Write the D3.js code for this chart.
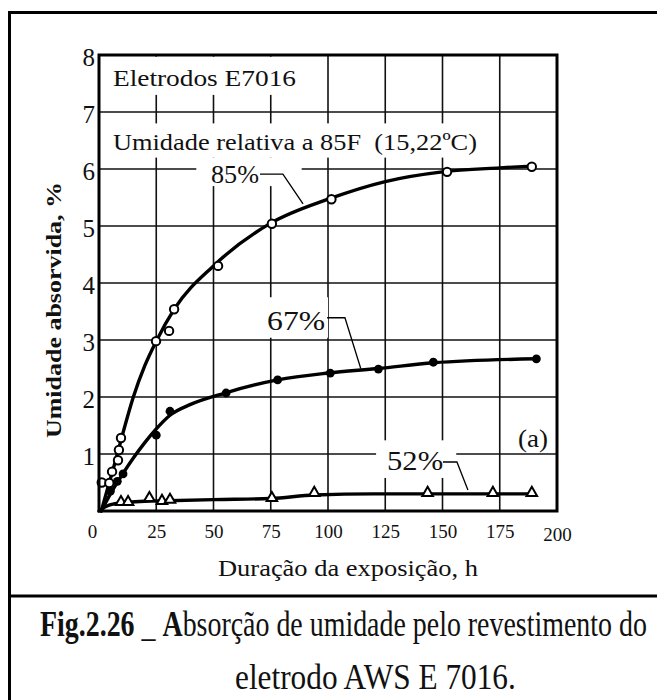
<!DOCTYPE html>
<html>
<head>
<meta charset="utf-8">
<script src="https://cdn.jsdelivr.net/npm/d3@7"></script>
<style>
  html, body { margin: 0; padding: 0; background: #fff; overflow: hidden; }
  svg { display: block; }
  text { fill: #111; }
</style>
</head>
<body>
<div id="chart"></div>
<script>
// tick labels
const xTicks = [0, 25, 50, 75, 100, 125, 150, 175, 200];
const yTicks = [1, 2, 3, 4, 5, 6, 7, 8];

// 85% - open circles
const m85Hours = [1.2, 4.5, 5.7, 8.3, 8.7, 9.6, 24.9, 30.6, 32.8, 52, 75.5, 101.5, 152, 189];
const m85Values = [0.5, 0.49, 0.69, 0.89, 1.07, 1.28, 2.98, 3.16, 3.54, 4.3, 5.04, 5.47, 5.95, 6.04];
const c85Hours = [1, 4.5, 7, 10, 15, 20, 25, 33, 50, 75, 100, 125, 150, 175, 189];
const c85Values = [0, 0.5, 0.85, 1.3, 2.0, 2.55, 2.98, 3.55, 4.3, 5.05, 5.47, 5.78, 5.95, 6.02, 6.05];

// 67% - filled circles
const m67Hours = [5, 8, 10.5, 25, 31, 55.5, 78, 101, 122, 146, 191];
const m67Values = [0.35, 0.52, 0.65, 1.33, 1.75, 2.07, 2.3, 2.42, 2.49, 2.61, 2.67];
const c67Hours = [1, 5, 10.5, 15, 20, 25, 31, 40, 55, 78, 100, 122, 146, 191];
const c67Values = [0, 0.3, 0.66, 0.93, 1.2, 1.44, 1.68, 1.87, 2.07, 2.3, 2.42, 2.5, 2.6, 2.67];

// 52% - open triangles
const m52Hours = [9.6, 12.7, 22, 27.5, 31, 75.5, 94, 143.5, 172, 189];
const m52Values = [0.14, 0.14, 0.21, 0.16, 0.18, 0.21, 0.3, 0.3, 0.3, 0.3];
const c52Hours = [0, 3, 7, 12, 20, 30, 50, 75, 94, 120, 143, 172, 189];
const c52Values = [0, 0.08, 0.13, 0.15, 0.17, 0.18, 0.2, 0.22, 0.28, 0.3, 0.3, 0.3, 0.3];

const FONT = '"Liberation Serif", "Times New Roman", Tinos, "Nimbus Roman", FreeSerif, "DejaVu Serif", serif';
const W = 657, H = 700;
const svg = d3.select('#chart').append('svg')
  .attr('width', W)
  .attr('height', H)
  .style('font-family', FONT);

// scales
const x = d3.scaleLinear().domain([0, 200]).range([99, 557]);
const y = d3.scaleLinear().domain([0, 8]).range([511, 55]);

const zip = (hs, vs) => hs.map((h, i) => [h, vs[i]]);

// outer frame + caption separator
svg.append('rect')
  .attr('x', 9.5).attr('y', 12.5)
  .attr('width', 700).attr('height', 760)
  .attr('fill', 'none').attr('stroke', '#000').attr('stroke-width', 3);
svg.append('line')
  .attr('x1', 9).attr('x2', W + 5)
  .attr('y1', 596).attr('y2', 596)
  .attr('stroke', '#000').attr('stroke-width', 3);

// grid
const grid = svg.append('g').attr('stroke', '#111').attr('stroke-width', 1.6);
grid.selectAll('.vg')
  .data(xTicks.slice(1, -1))
  .enter().append('line')
  .attr('x1', d => x(d)).attr('x2', d => x(d))
  .attr('y1', y(8)).attr('y2', y(0));
grid.selectAll('.hg')
  .data(yTicks.slice(0, -1))
  .enter().append('line')
  .attr('x1', x(0)).attr('x2', x(200))
  .attr('y1', d => y(d)).attr('y2', d => y(d));

// white boxes behind the labels (in data units: h0, h1, v0, v1)
const boxes = [
  [0.4, 90, 7.3, 7.97],
  [0.4, 168, 6.2, 6.8],
  [42.5, 88.5, 5.7, 6.2],
  [71, 100, 3.04, 3.75],
  [121, 156, 0.58, 1.24],
];
svg.append('g').selectAll('rect')
  .data(boxes)
  .enter().append('rect')
  .attr('x', d => x(d[0]))
  .attr('width', d => x(d[1]) - x(d[0]))
  .attr('y', d => y(d[3]))
  .attr('height', d => y(d[2]) - y(d[3]))
  .attr('fill', '#fff');

// curves
const line = d3.line()
  .x(d => x(d[0]))
  .y(d => y(d[1]))
  .curve(d3.curveMonotoneX);

[zip(c85Hours, c85Values), zip(c67Hours, c67Values), zip(c52Hours, c52Values)].forEach((pts) => {
  svg.append('path')
    .attr('d', line(pts))
    .attr('fill', 'none')
    .attr('stroke', '#000')
    .attr('stroke-width', 3.4)
    .attr('stroke-linejoin', 'round')
    .attr('stroke-linecap', 'round');
});

// markers
svg.append('g').selectAll('circle')
  .data(zip(m85Hours, m85Values))
  .enter().append('circle')
  .attr('cx', d => x(d[0])).attr('cy', d => y(d[1]))
  .attr('r', 4.2)
  .attr('fill', '#fff').attr('stroke', '#000').attr('stroke-width', 2);

svg.append('g').selectAll('circle')
  .data(zip(m67Hours, m67Values))
  .enter().append('circle')
  .attr('cx', d => x(d[0])).attr('cy', d => y(d[1]))
  .attr('r', 4.4)
  .attr('fill', '#000');

const tri = d3.symbol().type(d3.symbolTriangle).size(48);
svg.append('g').selectAll('path')
  .data(zip(m52Hours, m52Values))
  .enter().append('path')
  .attr('d', tri)
  .attr('transform', d => `translate(${x(d[0])},${y(d[1]) - 1})`)
  .attr('fill', '#fff').attr('stroke', '#000').attr('stroke-width', 2);

// leader lines for the series labels
const leaders = [
  [[70.3, 5.91], [80.3, 5.91], [89.1, 5.39]],
  [[99.6, 3.39], [107.4, 3.39], [114.3, 2.5]],
  [[150.2, 0.86], [156.3, 0.86], [161.1, 0.37]],
];
leaders.forEach((pts) => {
  svg.append('path')
    .attr('d', d3.line().x(d => x(d[0])).y(d => y(d[1]))(pts))
    .attr('fill', 'none')
    .attr('stroke', '#000')
    .attr('stroke-width', 1.3);
});

// labels inside the plot
const labels = [
  { t: 'Eletrodos E7016', h: 6.1, v: 7.46, size: 24, w: 183 },
  { t: 'Umidade relativa a 85F\u00a0\u00a0(15,22ºC)', h: 6.1, v: 6.33, size: 24, w: 364 },
  { t: '85%', h: 48.9, v: 5.75, size: 26, w: 48 },
  { t: '67%', h: 73.4, v: 3.18, size: 28, w: 58 },
  { t: '52%', h: 125.8, v: 0.72, size: 28, w: 56 },
  { t: '(a)', h: 183, v: 1.12, size: 26, w: 30 },
];
labels.forEach((l) => {
  svg.append('text')
    .attr('x', x(l.h))
    .attr('y', y(l.v))
    .attr('font-size', l.size)
    .attr('textLength', l.w)
    .attr('lengthAdjust', 'spacingAndGlyphs')
    .text(l.t);
});

// axes
const xAxis = svg.append('g')
  .attr('transform', `translate(0,${y(0)})`)
  .call(d3.axisBottom(x).tickValues(xTicks).tickSize(0).tickFormat(d3.format('d')));
xAxis.select('.domain').remove();
xAxis.attr('font-family', FONT);
xAxis.selectAll('text')
  .attr('font-size', 19)
  .attr('fill', '#111')
  .attr('dy', null)
  .attr('y', d => d === 200 ? 30 : 27)
  .attr('dx', d => d === 0 ? -7 : 0);

const yAxis = svg.append('g')
  .attr('transform', `translate(${x(0)},0)`)
  .call(d3.axisLeft(y).tickValues(yTicks).tickSize(0).tickFormat(d3.format('d')));
yAxis.select('.domain').remove();
yAxis.attr('font-family', FONT);
yAxis.selectAll('text')
  .attr('font-size', 25)
  .attr('fill', '#111')
  .attr('x', -4)
  .attr('dy', null)
  .attr('y', 10);

// plot frame
svg.append('rect')
  .attr('x', x(0)).attr('y', y(8))
  .attr('width', x(200) - x(0)).attr('height', y(0) - y(8))
  .attr('fill', 'none').attr('stroke', '#000').attr('stroke-width', 3);

// axis titles
svg.append('text')
  .attr('x', 348).attr('y', 576)
  .attr('text-anchor', 'middle')
  .attr('font-size', 23)
  .attr('textLength', 260)
  .attr('lengthAdjust', 'spacingAndGlyphs')
  .text('Duração da exposição, h');

svg.append('text')
  .attr('transform', 'translate(61,310) rotate(-90)')
  .attr('text-anchor', 'middle')
  .attr('font-size', 22)
  .attr('font-weight', 'bold')
  .attr('textLength', 256)
  .attr('lengthAdjust', 'spacingAndGlyphs')
  .text('Umidade absorvida, %');

// caption, squeezed to the width of the original
const fitText = (sel, left, width) => {
  const bb = sel.node().getBBox();
  const k = width / bb.width;
  sel.attr('transform', `translate(${left - bb.x * k},0) scale(${k},1)`);
};

const cap1 = svg.append('text')
  .attr('x', 0).attr('y', 636)
  .attr('font-size', 36);
cap1.append('tspan').attr('font-weight', 'bold').text('Fig.2.26');
cap1.append('tspan').text(' _ ');
cap1.append('tspan').attr('font-weight', 'bold').text('A');
cap1.append('tspan').text('bsorção de umidade pelo revestimento do');
fitText(cap1, 40, 607);

const cap2 = svg.append('text')
  .attr('x', 0).attr('y', 689)
  .attr('font-size', 35)
  .text('eletrodo AWS E 7016.');
fitText(cap2, 235, 281);
</script>
</body>
</html>
